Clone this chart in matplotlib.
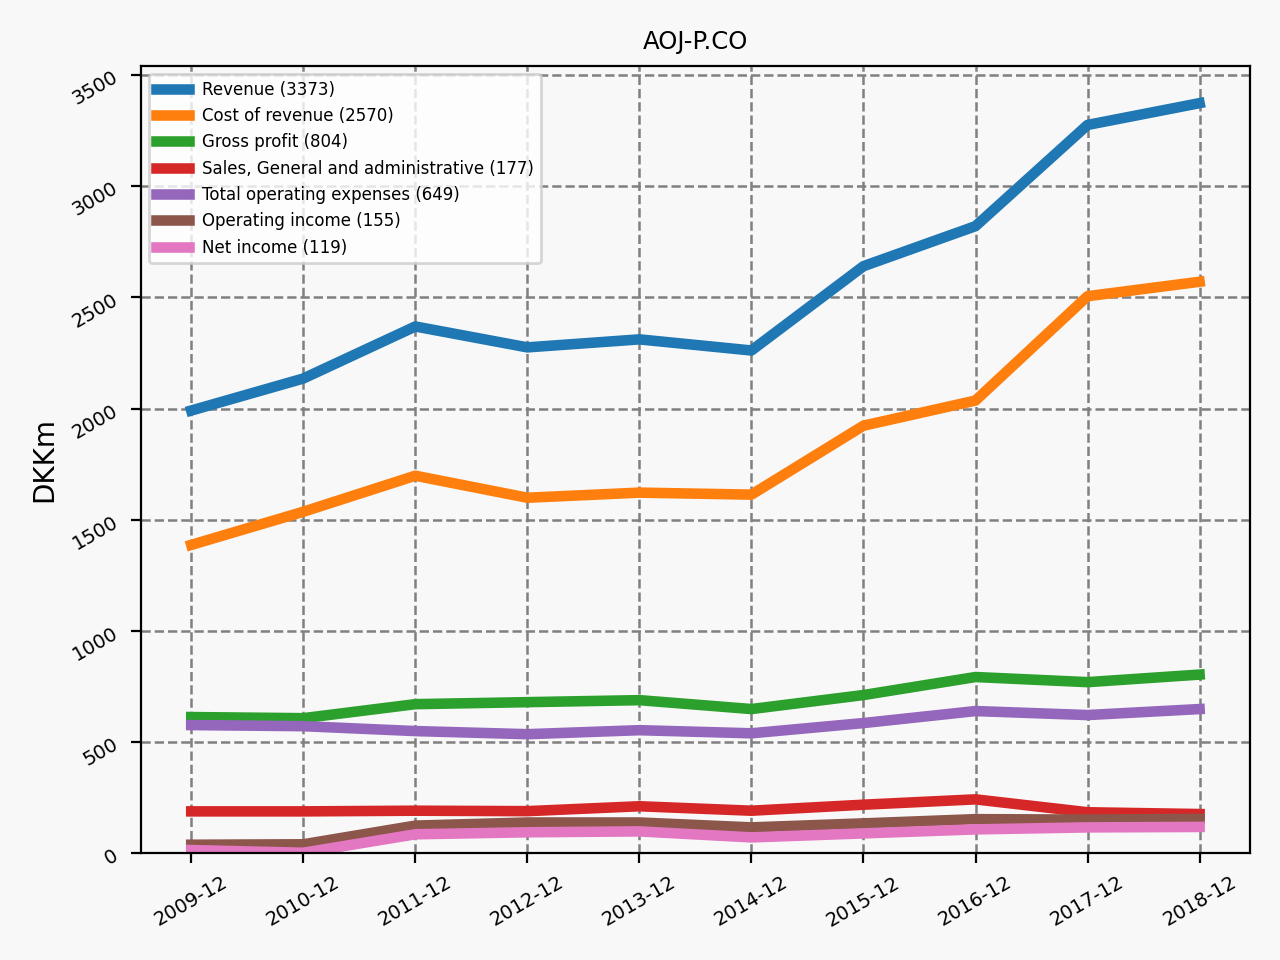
import matplotlib
matplotlib.use("Agg")
import matplotlib.pyplot as plt

years = ["2009-12", "2010-12", "2011-12", "2012-12", "2013-12",
         "2014-12", "2015-12", "2016-12", "2017-12", "2018-12"]

revenue = [1991, 2135, 2369, 2275, 2311, 2261, 2640, 2820, 3275, 3373]
cost_of_revenue = [1387, 1536, 1698, 1599, 1622, 1613, 1923, 2036, 2505, 2570]
gross_profit = [613, 608, 671, 680, 689, 649, 712, 793, 770, 804]
sga = [189, 189, 192, 190, 212, 192, 219, 243, 185, 177]
total_opex = [577, 572, 550, 536, 554, 540, 586, 640, 622, 649]
operating_income = [39, 41, 125, 139, 139, 117, 135, 154, 152, 155]
net_income = [15, 3, 86, 95, 99, 72, 90, 108, 117, 119]

series = [
    ("Revenue", revenue),
    ("Cost of revenue", cost_of_revenue),
    ("Gross profit", gross_profit),
    ("Sales, General and administrative", sga),
    ("Total operating expenses", total_opex),
    ("Operating income", operating_income),
    ("Net income", net_income),
]

bg = "#f8f8f8"
fig, ax = plt.subplots(figsize=(6.4, 4.8), dpi=200)
fig.patch.set_facecolor(bg)
ax.set_facecolor(bg)

for name, vals in series:
    ax.plot(years, vals, linewidth=3.8, label="%s (%d)" % (name, vals[-1]))

ax.set_ylim(bottom=0)
ax.set_title("AOJ-P.CO", fontsize=8.8)
ax.set_ylabel("DKKm", fontsize=10)
ax.tick_params(axis="both", labelsize=7, rotation=30)
ax.grid(True, color="gray", linestyle="--", linewidth=0.9)
ax.legend(loc="upper left", fontsize=6)

plt.tight_layout()
plt.savefig("out.png", facecolor=bg)
